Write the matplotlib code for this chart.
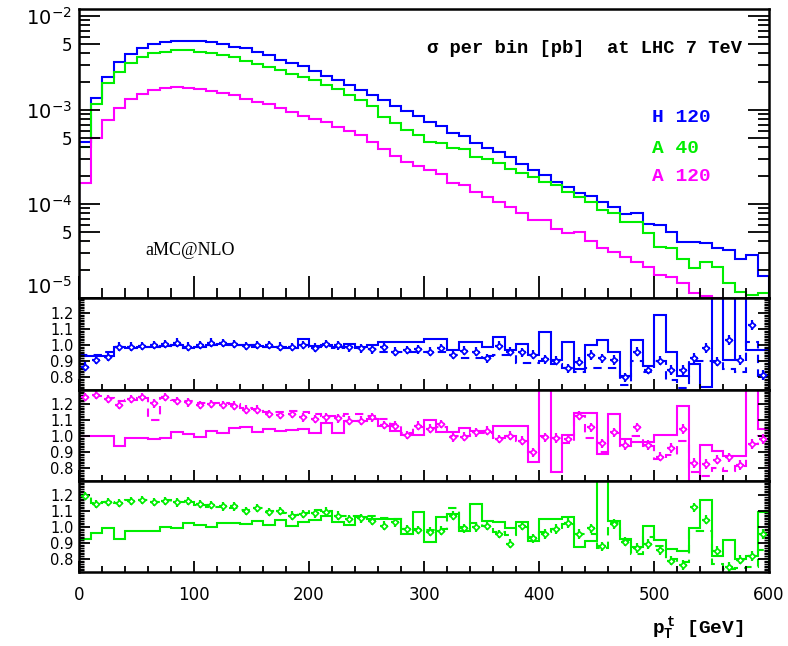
import numpy as np
import matplotlib.pyplot as plt
from matplotlib.ticker import FixedLocator, MultipleLocator

plt.rcParams['mathtext.fontset'] = 'custom'
plt.rcParams['mathtext.rm'] = 'Liberation Mono:bold'
plt.rcParams['mathtext.sf'] = 'DejaVu Sans'

# p_T bins, 10 GeV wide
edges = np.arange(0, 610, 10)
centers = edges[:-1] + 5

# sigma per bin [pb]
sigma_H120 = [4.53e-4, 1.35e-3, 2.26e-3, 3.21e-3, 3.91e-3, 4.53e-3, 5.00e-3, 5.25e-3, 5.46e-3, 5.42e-3,
              5.38e-3, 5.29e-3, 5.00e-3, 4.72e-3, 4.53e-3, 4.18e-3, 3.85e-3, 3.40e-3, 3.19e-3, 2.96e-3,
              2.62e-3, 2.30e-3, 2.09e-3, 1.85e-3, 1.63e-3, 1.44e-3, 1.28e-3, 1.10e-3, 9.76e-4, 8.64e-4,
              7.51e-4, 6.76e-4, 5.65e-4, 5.29e-4, 4.49e-4, 3.97e-4, 3.60e-4, 3.19e-4, 2.64e-4, 2.30e-4,
              2.03e-4, 1.73e-4, 1.53e-4, 1.32e-4, 1.22e-4, 1.06e-4, 9.37e-5, 7.77e-5, 7.96e-5, 6.13e-5,
              5.98e-5, 5.08e-5, 3.97e-5, 3.97e-5, 3.82e-5, 3.38e-5, 3.24e-5, 2.58e-5, 2.87e-5, 1.71e-5]
sigma_A40 = [4.07e-4, 1.15e-3, 1.92e-3, 2.56e-3, 3.14e-3, 3.63e-3, 4.01e-3, 4.18e-3, 4.35e-3, 4.38e-3,
             4.18e-3, 4.01e-3, 3.85e-3, 3.63e-3, 3.32e-3, 3.11e-3, 2.84e-3, 2.66e-3, 2.42e-3, 2.23e-3,
             2.09e-3, 1.85e-3, 1.66e-3, 1.44e-3, 1.28e-3, 1.09e-3, 8.50e-4, 7.21e-4, 6.13e-4, 5.42e-4,
             4.60e-4, 4.42e-4, 3.91e-4, 3.82e-4, 3.19e-4, 2.99e-4, 2.71e-4, 2.34e-4, 2.12e-4, 1.95e-4,
             1.73e-4, 1.59e-4, 1.35e-4, 1.20e-4, 1.06e-4, 8.63e-5, 7.96e-5, 6.49e-5, 6.49e-5, 4.87e-5,
             3.52e-5, 3.38e-5, 2.58e-5, 2.07e-5, 2.43e-5, 2.15e-5, 1.43e-5, 1.17e-5, 1.08e-5, 1.12e-5]
sigma_A120 = [1.69e-4, 5.00e-4, 7.83e-4, 1.06e-3, 1.31e-3, 1.47e-3, 1.62e-3, 1.70e-3, 1.74e-3, 1.71e-3,
              1.67e-3, 1.61e-3, 1.53e-3, 1.44e-3, 1.31e-3, 1.22e-3, 1.15e-3, 1.04e-3, 9.60e-4, 8.71e-4,
              8.09e-4, 7.39e-4, 6.65e-4, 5.98e-4, 5.42e-4, 4.60e-4, 3.82e-4, 3.24e-4, 2.82e-4, 2.54e-4,
              2.30e-4, 2.09e-4, 1.69e-4, 1.59e-4, 1.35e-4, 1.20e-4, 1.06e-4, 9.37e-5, 8.09e-5, 6.76e-5,
              6.76e-5, 5.38e-5, 4.87e-5, 5.08e-5, 4.07e-5, 3.38e-5, 3.11e-5, 2.75e-5, 2.43e-5, 2.15e-5,
              1.76e-5, 1.69e-5, 1.46e-5, 1.12e-5, 1.05e-5, 9.9e-6, 9.8e-6, 9.0e-6, 8.5e-6, 8.0e-6]

# ratios: H 120
H120_solid = [0.93, 0.93, 0.93, 0.99, 0.985, 0.99, 0.99, 0.995, 1.0, 0.985,
              0.99, 1.0, 1.01, 1.0, 1.0, 0.995, 0.99, 0.99, 0.985, 1.04,
              0.995, 1.0, 0.99, 1.01, 0.99, 1.0, 1.02, 1.02, 1.02, 1.02,
              1.04, 1.04, 0.97, 1.02, 1.02, 0.99, 1.05, 0.97, 1.005, 0.94,
              1.08, 0.91, 1.02, 0.85, 1.0, 1.03, 0.96, 0.81, 1.03, 0.87,
              1.19, 0.955, 0.81, 0.88, 0.74, 1.5, 0.91, 1.5, 0.97, 0.97]
H120_dash = [0.94, 0.94, 0.96, 0.99, 0.985, 0.99, 0.99, 0.995, 1.0, 0.985,
             0.99, 1.0, 1.0, 1.0, 1.0, 0.99, 0.99, 0.985, 0.985, 1.0,
             0.99, 0.995, 0.985, 0.99, 0.98, 0.975, 0.96, 0.955, 0.955, 0.96,
             0.955, 0.96, 0.94, 0.92, 0.92, 0.93, 0.94, 0.94, 0.89, 0.89,
             0.90, 0.88, 0.86, 0.83, 0.86, 0.86, 0.86, 0.75, 0.90, 0.83,
             0.90, 0.78, 0.735, 0.90, 0.90, 0.90, 0.85, 0.835, 1.02, 0.81]
H120_pts = [0.866, 0.908, 0.929, 0.991, 0.991, 0.996, 1.0, 1.008, 1.016, 0.991,
            1.0, 1.016, 1.012, 1.006, 0.996, 1.0, 1.0, 0.991, 0.987, 1.0,
            0.985, 1.008, 1.0, 0.987, 0.981, 0.975, 0.987, 0.96, 0.971, 0.975,
            0.96, 0.981, 0.939, 0.966, 0.96, 0.919, 0.996, 0.96, 0.956, 0.939,
            0.912, 0.904, 0.856, 0.898, 0.939, 0.919, 0.908, 0.80, 0.96, 0.846,
            0.904, 0.846, 0.846, 0.919, 0.981, 0.898, 1.033, 0.908, 1.127, 0.814]

# ratios: A 120
A120_solid = [1.0, 1.0, 1.0, 0.937, 0.99, 0.99, 0.98, 0.99, 1.025, 1.015,
              0.998, 1.035, 1.02, 1.05, 1.056, 1.029, 1.046, 1.033, 1.04, 1.046,
              1.02, 1.081, 1.02, 1.094, 1.098, 1.108, 1.066, 1.035, 1.008, 1.01,
              1.102, 1.025, 1.025, 1.05, 1.035, 1.03, 1.062, 1.066, 1.066, 0.837,
              1.5, 0.779, 1.008, 1.145, 1.145, 0.889, 1.14, 0.983, 0.962, 0.962,
              1.01, 1.01, 1.187, 0.5, 0.946, 0.91, 0.875, 0.875, 1.5, 1.046]
A120_dash = [1.25, 1.25, 1.24, 1.22, 1.23, 1.24, 1.10, 1.24, 1.23, 1.22,
             1.21, 1.21, 1.21, 1.20, 1.18, 1.17, 1.15, 1.15, 1.16, 1.15,
             1.14, 1.13, 1.13, 1.14, 1.14, 1.13, 1.11, 1.08, 1.02, 1.06,
             1.05, 1.06, 1.0, 1.0, 1.02, 1.02, 0.99, 1.0, 0.97, 0.90,
             1.0, 0.99, 0.96, 1.13, 0.99, 0.90, 1.02, 0.94, 1.0, 0.94,
             0.86, 0.88, 0.97, 0.775, 0.75, 0.80, 0.785, 0.815, 0.95, 1.0]
A120_pts = [1.244, 1.258, 1.233, 1.196, 1.233, 1.244, 1.206, 1.244, 1.223, 1.212,
            1.196, 1.202, 1.196, 1.192, 1.167, 1.167, 1.139, 1.133, 1.139, 1.118,
            1.108, 1.118, 1.112, 1.098, 1.098, 1.118, 1.071, 1.066, 1.008, 1.066,
            1.046, 1.077, 0.994, 0.998, 1.025, 1.035, 0.983, 1.004, 0.973, 0.90,
            0.994, 0.99, 0.983, 1.129, 1.056, 0.956, 1.025, 0.946, 1.056, 0.946,
            0.873, 0.925, 1.046, 0.833, 0.827, 0.854, 0.868, 0.821, 0.952, 0.983]

# ratios: A 40
A40_solid = [0.927, 0.964, 0.996, 0.927, 0.979, 0.979, 0.979, 1.004, 0.994, 1.025,
             1.017, 1.004, 1.025, 1.025, 1.021, 1.037, 1.017, 1.048, 1.006, 1.031,
             1.048, 1.073, 1.031, 1.014, 1.062, 1.052, 1.052, 1.052, 0.958, 1.094,
             0.910, 1.062, 1.083, 0.979, 1.146, 1.042, 1.031, 0.994, 1.031, 0.917,
             1.052, 1.052, 1.066, 0.875, 0.917, 1.5, 1.042, 0.927, 0.875, 1.01,
             0.921, 0.864, 0.854, 0.994, 1.171, 0.819, 0.923, 0.802, 0.823, 1.098]
A40_dash = [1.2, 1.15, 1.16, 1.15, 1.17, 1.17, 1.16, 1.17, 1.16, 1.16,
            1.14, 1.13, 1.13, 1.12, 1.11, 1.12, 1.10, 1.09, 1.08, 1.09,
            1.11, 1.10, 1.07, 1.07, 1.07, 1.07, 1.06, 1.05, 0.99, 0.99,
            0.98, 0.99, 1.12, 1.0, 1.03, 1.01, 0.97, 0.95, 1.0, 0.94,
            0.97, 0.99, 1.02, 0.96, 0.96, 0.87, 1.03, 0.92, 0.83, 0.94,
            0.88, 0.80, 0.78, 0.975, 0.975, 0.77, 0.74, 0.745, 0.75, 0.86]
A40_pts = [1.198, 1.146, 1.16, 1.152, 1.166, 1.173, 1.16, 1.166, 1.156, 1.166,
           1.146, 1.139, 1.131, 1.131, 1.104, 1.119, 1.094, 1.1, 1.073, 1.083,
           1.087, 1.098, 1.073, 1.052, 1.056, 1.042, 1.01, 1.031, 0.989, 0.983,
           0.973, 0.979, 1.073, 0.994, 1.0, 1.01, 0.958, 0.896, 1.01, 0.931,
           0.958, 0.989, 1.027, 0.958, 0.994, 0.881, 1.021, 0.91, 0.871, 0.896,
           0.858, 0.792, 0.764, 1.125, 1.048, 0.854, 0.75, 0.798, 0.819, 0.958]

# error on ratio points
pts_err = [0.026, 0.026, 0.026, 0.026, 0.026, 0.026, 0.026, 0.026, 0.026, 0.026,
           0.026, 0.026, 0.026, 0.026, 0.026, 0.026, 0.026, 0.026, 0.026, 0.026,
           0.027, 0.027, 0.027, 0.027, 0.027, 0.027, 0.027, 0.027, 0.027, 0.027,
           0.028, 0.028, 0.028, 0.028, 0.028, 0.028, 0.028, 0.028, 0.028, 0.028,
           0.029, 0.029, 0.029, 0.029, 0.029, 0.029, 0.029, 0.029, 0.029, 0.029,
           0.030, 0.030, 0.030, 0.030, 0.030, 0.030, 0.030, 0.030, 0.030, 0.030]

blue, green, magenta = '#0000ff', '#00ee00', '#ff00ff'
labels = ['H 120', 'A 40', 'A 120']

main_ticks = [1e-5, 5e-5, 1e-4, 5e-4, 1e-3, 5e-3, 1e-2]
main_ticklabels = [r'$\mathsf{10^{-5}}$', '5', r'$\mathsf{10^{-4}}$', '5',
                   r'$\mathsf{10^{-3}}$', '5', r'$\mathsf{10^{-2}}$']
ratio_ticks = [0.8, 0.9, 1.0, 1.1, 1.2]
ratio_ticklabels = ['0.8', '0.9', '1.0', '1.1', '1.2']
x_ticks = [0, 100, 200, 300, 400, 500, 600]

fig = plt.figure(figsize=(7.88, 6.46), dpi=100)
L, W = 79 / 788, 690 / 788
ax0 = fig.add_axes([L, 1 - 298 / 646, W, 289 / 646])
ax1 = fig.add_axes([L, 1 - 390 / 646, W, 92 / 646])
ax2 = fig.add_axes([L, 1 - 481 / 646, W, 91 / 646])
ax3 = fig.add_axes([L, 1 - 572 / 646, W, 91 / 646])

# main panel
ax0.set_yscale('log')
for vals, c in [(sigma_H120, blue), (sigma_A40, green), (sigma_A120, magenta)]:
    ax0.stairs(vals, edges, baseline=1e-7, color=c, lw=1.5)
ax0.set_ylim(1e-5, 1.186e-2)
ax0.set_yticks(main_ticks)
ax0.set_yticklabels(main_ticklabels)
ax0.yaxis.set_minor_locator(FixedLocator([m * 10.0 ** e for e in range(-5, -2) for m in (2, 3, 4, 6, 7, 8, 9)]))
ax0.yaxis.set_minor_formatter(plt.NullFormatter())
ax0.tick_params(axis='y', which='major', length=15, width=1.3)
ax0.tick_params(axis='y', which='minor', length=8, width=1.3)
ax0.tick_params(axis='x', which='major', length=16, width=1.3)
ax0.tick_params(axis='x', which='minor', length=7, width=1.3)

mono = ['Liberation Mono', 'DejaVu Sans Mono']
ax0.text(0.961, 0.865, 'σ per bin [pb]  at LHC 7 TeV', transform=ax0.transAxes,
         ha='right', va='center', family=mono, weight='bold', fontsize=13.5)
for lab, c, yy in zip(labels, [blue, green, magenta], [0.623, 0.519, 0.419]):
    ax0.text(0.830, yy, lab, transform=ax0.transAxes, ha='left', va='center',
             family=mono, weight='bold', fontsize=14, color=c)
ax0.text(0.096, 0.166, 'aMC@NLO', transform=ax0.transAxes, ha='left', va='center',
         family='Liberation Serif', fontsize=13)

# ratio panels
panels = [(ax1, H120_solid, H120_dash, H120_pts, blue, 0.72, 1.295),
          (ax2, A120_solid, A120_dash, A120_pts, magenta, 0.72, 1.29),
          (ax3, A40_solid, A40_dash, A40_pts, green, 0.72, 1.29)]
for ax, sol, das, pts, c, lo, hi in panels:
    ax.stairs(sol, edges, baseline=0, color=c, lw=1.5)
    ax.stairs(das, edges, baseline=None, color=c, lw=1.5, ls=(0, (4, 3)))
    ax.errorbar(centers, pts, xerr=3.6, yerr=pts_err, fmt='D', ms=3, mfc='white',
                mec=c, mew=1.2, ecolor=c, elinewidth=1.6, capsize=0)
    ax.set_ylim(lo, hi)
    ax.set_yticks(ratio_ticks)
    ax.set_yticklabels(ratio_ticklabels)
    ax.yaxis.set_minor_locator(MultipleLocator(0.01))
    ax.tick_params(axis='y', which='major', length=8, width=1.3, labelsize=10.5, pad=4)
    ax.tick_params(axis='y', which='minor', length=3.5, width=1.0)
    ax.tick_params(axis='x', which='major', length=8, width=1.3)
    ax.tick_params(axis='x', which='minor', length=4, width=1.3)

for ax in [ax0, ax1, ax2, ax3]:
    ax.set_xlim(0, 600)
    ax.set_xticks(x_ticks)
    ax.xaxis.set_minor_locator(MultipleLocator(20))
    ax.tick_params(which='both', direction='in', left=True, right=True, top=False, bottom=True)
    ax.tick_params(axis='x', labelsize=12)
    for s in ax.spines.values():
        s.set_linewidth(1.8)
    if ax is not ax3:
        ax.tick_params(axis='x', labelbottom=False)
ax3.tick_params(axis='x', pad=10)
ax0.tick_params(axis='y', pad=5)
for lbl in ax0.get_yticklabels():
    lbl.set_fontsize(14 if lbl.get_text().startswith('$') else 12)
# lowest decade label sits just above the ratio panel
ax0.get_yticklabels()[0].set_verticalalignment('bottom')

fig.text(0.886, 0.028, r'$\mathrm{p_T^{\,t}}$ [GeV]', ha='center', va='center',
         family=mono, weight='bold', fontsize=14)

fig.savefig('out.png', dpi=100)
